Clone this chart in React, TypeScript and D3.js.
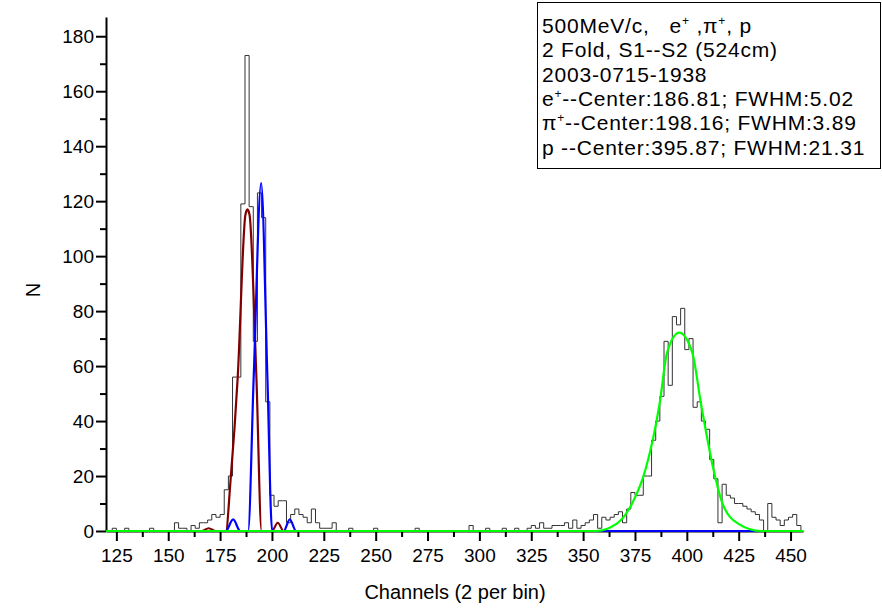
import React, { useRef, useEffect } from 'react';
import * as d3 from 'd3';

// histogram: N per bin, 2 channels per bin, first bin starts at channel 121
const firstBin = 121;
const binWidth = 2;
const counts = [
  0, 1, 0, 0, 1, 0, 0, 0, 0, 0, // 121-139
  1, 0, 0, 0, 0, 0, 3, 1, 1, 0, // 141-159
  2, 1, 3, 3, 4, 6, 5, 6, 15, 20, // 161-179
  56, 56, 119, 173, 118, 69, 123, 114, 47, 13, // 181-199
  9, 11, 11, 3, 6, 8, 6, 5, 3, 8, // 201-219
  3, 1, 1, 1, 3, 0, 0, 0, 1, 0, // 221-239
  0, 0, 0, 0, 1, 0, 0, 0, 0, 0, // 241-259
  0, 0, 0, 0, 1, 0, 0, 0, 0, 0, // 261-279
  0, 0, 0, 0, 0, 0, 0, 2, 0, 0, // 281-299
  0, 1, 0, 0, 0, 1, 0, 0, 1, 0, // 301-319
  0, 1, 2, 1, 3, 1, 1, 2, 2, 2, // 321-339
  3, 1, 4, 1, 2, 3, 4, 6, 1, 5, // 341-359
  4, 5, 6, 7, 3, 8, 14, 13, 13, 20, // 361-379
  20, 33, 40, 49, 69, 53, 78, 75, 81, 66, // 381-399
  70, 45, 47, 40, 37, 26, 19, 3, 17, 13, // 401-419
  12, 10, 10, 9, 8, 7, 6, 4, 0, 10, // 421-439
  5, 4, 2, 4, 5, 6, 2, // 441-453
];

// fit curves as drawn, [channel, N]
const ePosFit = [
  [120, 0], [166, 0], [169.5, 1], [173, 0], [177.8, 0], [180, 18], [183.5, 56],
  [187.2, 115], [188.2, 117], [189.2, 115], [192.5, 56], [195, 0], [200, 0],
  [202.8, 3], [205.6, 0], [456, 0],
];
const piPosFit = [
  [120, 0], [177.7, 0], [181.3, 4.2], [184.7, 0], [188.5, 0], [191.2, 56],
  [194.8, 126.6], [197.8, 56], [200.1, 0], [205.7, 0], [208.6, 4.2], [211.6, 0],
  [456, 0],
];
const protonFit = [
  [120, 0], [356, 0], [366.4, 2.8], [373.6, 10], [380, 22.2], [386.9, 46.4],
  [390.5, 65], [396.3, 72.2], [402.6, 65], [406.8, 46.4], [412.9, 22.2],
  [417.2, 10], [424.5, 2.8], [436, 0], [456, 0],
];

const xMajor = [125, 150, 175, 200, 225, 250, 275, 300, 325, 350, 375, 400, 425, 450];
const xMinor = [137.5, 162.5, 187.5, 212.5, 237.5, 262.5, 287.5, 312.5, 337.5, 362.5, 387.5, 412.5, 437.5];
const yMajor = [0, 20, 40, 60, 80, 100, 120, 140, 160, 180];
const yMinor = [10, 30, 50, 70, 90, 110, 130, 150, 170];

// legend text, [text, superscript?]
const legendLines: [string, boolean][][] = [
  [['500MeV/c,   e', false], ['+', true], [' ,\u03c0', false], ['+', true], [', p', false]],
  [['2 Fold, S1--S2 (524cm)', false]],
  [['2003-0715-1938', false]],
  [['e', false], ['+', true], ['--Center:186.81; FWHM:5.02', false]],
  [['\u03c0', false], ['+', true], ['--Center:198.16; FWHM:3.89', false]],
  [['p --Center:395.87; FWHM:21.31', false]],
];

const FONT = "'Liberation Sans', Arial, sans-serif";

const App = () => {
  const chartRef = useRef<SVGSVGElement>(null);

  useEffect(() => {
    const svg = d3.select(chartRef.current);
    svg.selectAll('*').remove();

    const x = d3.scaleLinear().domain([120, 456]).range([106, 803]);
    const y = d3.scaleLinear().domain([0, 187]).range([531, 17]);

    // axes
    const yAxis = svg.append('g').attr('transform', 'translate(106,0)')
      .call(d3.axisLeft(y).tickValues(yMajor).tickSize(10).tickSizeOuter(0).tickPadding(2));
    svg.append('g').attr('transform', 'translate(106,0)')
      .call(d3.axisLeft(y).tickValues(yMinor).tickSize(6).tickFormat(() => ''))
      .select('.domain').remove();

    const xAxis = svg.append('g').attr('transform', 'translate(0,531)')
      .call(d3.axisBottom(x).tickValues(xMajor).tickSize(10).tickSizeOuter(0).tickPadding(8));
    svg.append('g').attr('transform', 'translate(0,531)')
      .call(d3.axisBottom(x).tickValues(xMinor).tickSize(6).tickFormat(() => ''))
      .select('.domain').remove();

    svg.selectAll('.domain, .tick line').attr('stroke', '#000').attr('stroke-width', 2);
    [xAxis, yAxis].forEach(a => a.selectAll('text')
      .attr('font-family', FONT).attr('font-size', 19).attr('fill', '#000'));

    // histogram
    const bins = counts.map((c, i) => [firstBin + i * binWidth, c]);
    bins.push([firstBin + counts.length * binWidth, 0]);
    const step = d3.line<number[]>()
      .x(d => x(d[0]))
      .y(d => y(d[1]))
      .curve(d3.curveStepAfter);
    svg.append('path')
      .attr('d', step([[firstBin, 0], ...bins]))
      .attr('fill', 'none')
      .attr('stroke', '#333')
      .attr('stroke-width', 1);

    // fits
    const smooth = d3.line<number[]>()
      .x(d => x(d[0]))
      .y(d => y(d[1]))
      .curve(d3.curveMonotoneX);
    [[ePosFit, '#800000'], [piPosFit, '#0000ff'], [protonFit, '#00ff00']].forEach(([pts, col]) => {
      svg.append('path')
        .attr('d', smooth(pts as number[][]))
        .attr('fill', 'none')
        .attr('stroke', col as string)
        .attr('stroke-width', 2.2);
    });

    // titles
    svg.append('text')
      .attr('transform', 'translate(40,290) rotate(-90)')
      .attr('text-anchor', 'middle')
      .attr('font-family', FONT).attr('font-size', 20)
      .text('N');
    svg.append('text')
      .attr('x', 455).attr('y', 599)
      .attr('text-anchor', 'middle')
      .attr('font-family', FONT).attr('font-size', 20)
      .text('Channels (2 per bin)');

    // legend
    svg.append('rect')
      .attr('x', 537.5).attr('y', 2.5).attr('width', 343).attr('height', 166)
      .attr('fill', '#fff').attr('stroke', '#000').attr('stroke-width', 1);
    legendLines.forEach((line, i) => {
      const t = svg.append('text')
        .attr('x', 542).attr('y', 33 + i * 24.3)
        .attr('font-family', FONT).attr('font-size', 21)
        .attr('letter-spacing', 0.8)
        .attr('xml:space', 'preserve')
        .style('white-space', 'pre');
      line.forEach(([s, sup], j) => {
        const span = t.append('tspan').text(s);
        if (sup) span.attr('font-size', 12).attr('dy', -8);
        else if (j > 0 && line[j - 1][1]) span.attr('dy', 8);
      });
    });
  }, []);

  return <svg ref={chartRef} width={882} height={614}
    style={{ position: 'absolute', left: 0, top: 0, background: '#fff' }}></svg>;
};

export default App;
